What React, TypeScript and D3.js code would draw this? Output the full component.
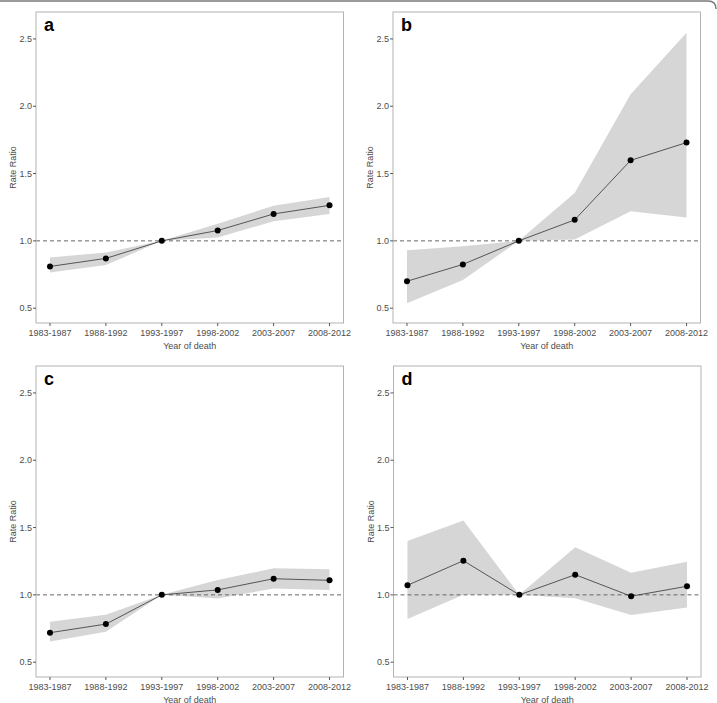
import { area, line, scaleLinear, select } from "d3";
import React, { useEffect, useRef } from "react";

const periods = [
    "1983-1987",
    "1988-1992",
    "1993-1997",
    "1998-2002",
    "2003-2007",
    "2008-2012",
];
const yTicks = [0.5, 1.0, 1.5, 2.0, 2.5];

// rate ratios with lower / upper confidence limits, one set per panel
const rrA = [0.81, 0.87, 1.0, 1.077, 1.2, 1.264];
const loA = [0.765, 0.82, 1.0, 1.025, 1.146, 1.2];
const hiA = [0.877, 0.914, 1.0, 1.128, 1.26, 1.326];

const rrB = [0.7, 0.825, 1.0, 1.156, 1.598, 1.73];
const loB = [0.536, 0.71, 1.0, 1.01, 1.22, 1.173];
const hiB = [0.93, 0.96, 1.0, 1.356, 2.09, 2.546];

const rrC = [0.719, 0.783, 1.0, 1.037, 1.12, 1.108];
const loC = [0.653, 0.727, 1.0, 0.973, 1.047, 1.037];
const hiC = [0.8, 0.852, 1.0, 1.11, 1.197, 1.19];

const rrD = [1.071, 1.254, 1.0, 1.15, 0.99, 1.064];
const loD = [0.82, 1.0, 1.0, 0.975, 0.85, 0.906];
const hiD = [1.4, 1.552, 1.0, 1.354, 1.165, 1.246];

const panels = [
    { label: "a", rr: rrA, lo: loA, hi: hiA, left: 36, top: 12 },
    { label: "b", rr: rrB, lo: loB, hi: hiB, left: 393, top: 12 },
    { label: "c", rr: rrC, lo: loC, hi: hiC, left: 36, top: 366 },
    { label: "d", rr: rrD, lo: loD, hi: hiD, left: 393.5, top: 366 },
];

const W = 717;
const H = 703;
const pw = 307.5;
const ph = 311;
const font = "'Liberation Sans', Arial, sans-serif";
const textGrey = "#4d4d4d";

const App: React.FC = () => {
    const svgRef = useRef<SVGSVGElement>(null);

    useEffect(() => {
        if (!svgRef.current) return;
        svgRef.current.innerHTML = "";
        const svg = select(svgRef.current);

        // frame line running along the top of the figure
        svg.append("path")
            .attr("d", `M0,1 L708,1 Q716,1 716,9`)
            .attr("fill", "none")
            .attr("stroke", "#7a7a7a")
            .attr("stroke-width", 1.5);

        panels.forEach(p => {
            const xScale = scaleLinear()
                .domain([-0.25, periods.length - 0.75])
                .range([p.left, p.left + pw]);
            const yScale = scaleLinear()
                .domain([0.39, 2.7])
                .range([p.top + ph, p.top]);
            const bottom = p.top + ph;

            const g = svg.append("g");

            const band = area<number>()
                .x((_, i) => xScale(i))
                .y0((_, i) => yScale(p.lo[i]))
                .y1((_, i) => yScale(p.hi[i]));

            g.append("path")
                .datum(p.rr)
                .attr("fill", "#d6d6d6")
                .attr("d", band as any);

            g.append("line")
                .attr("x1", p.left)
                .attr("x2", p.left + pw)
                .attr("y1", yScale(1))
                .attr("y2", yScale(1))
                .attr("stroke", "#666")
                .attr("stroke-width", 1)
                .attr("stroke-dasharray", "4,3");

            const rrLine = line<number>()
                .x((_, i) => xScale(i))
                .y(d => yScale(d));

            g.append("path")
                .datum(p.rr)
                .attr("fill", "none")
                .attr("stroke", "#333")
                .attr("stroke-width", 0.8)
                .attr("d", rrLine as any);

            g.selectAll(".dot")
                .data(p.rr)
                .enter()
                .append("circle")
                .attr("cx", (_, i) => xScale(i))
                .attr("cy", d => yScale(d))
                .attr("r", 3)
                .attr("fill", "#000");

            g.append("rect")
                .attr("x", p.left)
                .attr("y", p.top)
                .attr("width", pw)
                .attr("height", ph)
                .attr("fill", "none")
                .attr("stroke", "#b3b3b3")
                .attr("stroke-width", 1);

            // y axis
            yTicks.forEach(t => {
                g.append("line")
                    .attr("x1", p.left - 3)
                    .attr("x2", p.left)
                    .attr("y1", yScale(t))
                    .attr("y2", yScale(t))
                    .attr("stroke", "#555");
                g.append("text")
                    .attr("x", p.left - 4)
                    .attr("y", yScale(t) + 3.2)
                    .attr("text-anchor", "end")
                    .attr("font-family", font)
                    .attr("font-size", 9)
                    .attr("fill", textGrey)
                    .text(t.toFixed(1));
            });

            // x axis
            periods.forEach((per, i) => {
                g.append("line")
                    .attr("x1", xScale(i))
                    .attr("x2", xScale(i))
                    .attr("y1", bottom)
                    .attr("y2", bottom + 3)
                    .attr("stroke", "#555");
                g.append("text")
                    .attr("x", xScale(i))
                    .attr("y", bottom + 13)
                    .attr("text-anchor", "middle")
                    .attr("font-family", font)
                    .attr("font-size", 9)
                    .attr("fill", textGrey)
                    .text(per);
            });

            g.append("text")
                .attr("x", p.left + pw / 2)
                .attr("y", bottom + 25.5)
                .attr("text-anchor", "middle")
                .attr("font-family", font)
                .attr("font-size", 9)
                .attr("fill", textGrey)
                .text("Year of death");

            g.append("text")
                .attr(
                    "transform",
                    `translate(${p.left - 20},${p.top + ph / 2}) rotate(-90)`,
                )
                .attr("text-anchor", "middle")
                .attr("font-family", font)
                .attr("font-size", 9)
                .attr("fill", textGrey)
                .text("Rate Ratio");

            g.append("text")
                .attr("x", p.left + 8)
                .attr("y", p.top + 19)
                .attr("font-family", font)
                .attr("font-size", 18)
                .attr("font-weight", "bold")
                .attr("fill", "#000")
                .text(p.label);
        });
    }, []);

    return (
        <svg
            ref={svgRef}
            width={W}
            height={H}
            style={{ position: "absolute", left: 0, top: 0, background: "#fff" }}
        ></svg>
    );
};

export default App;
